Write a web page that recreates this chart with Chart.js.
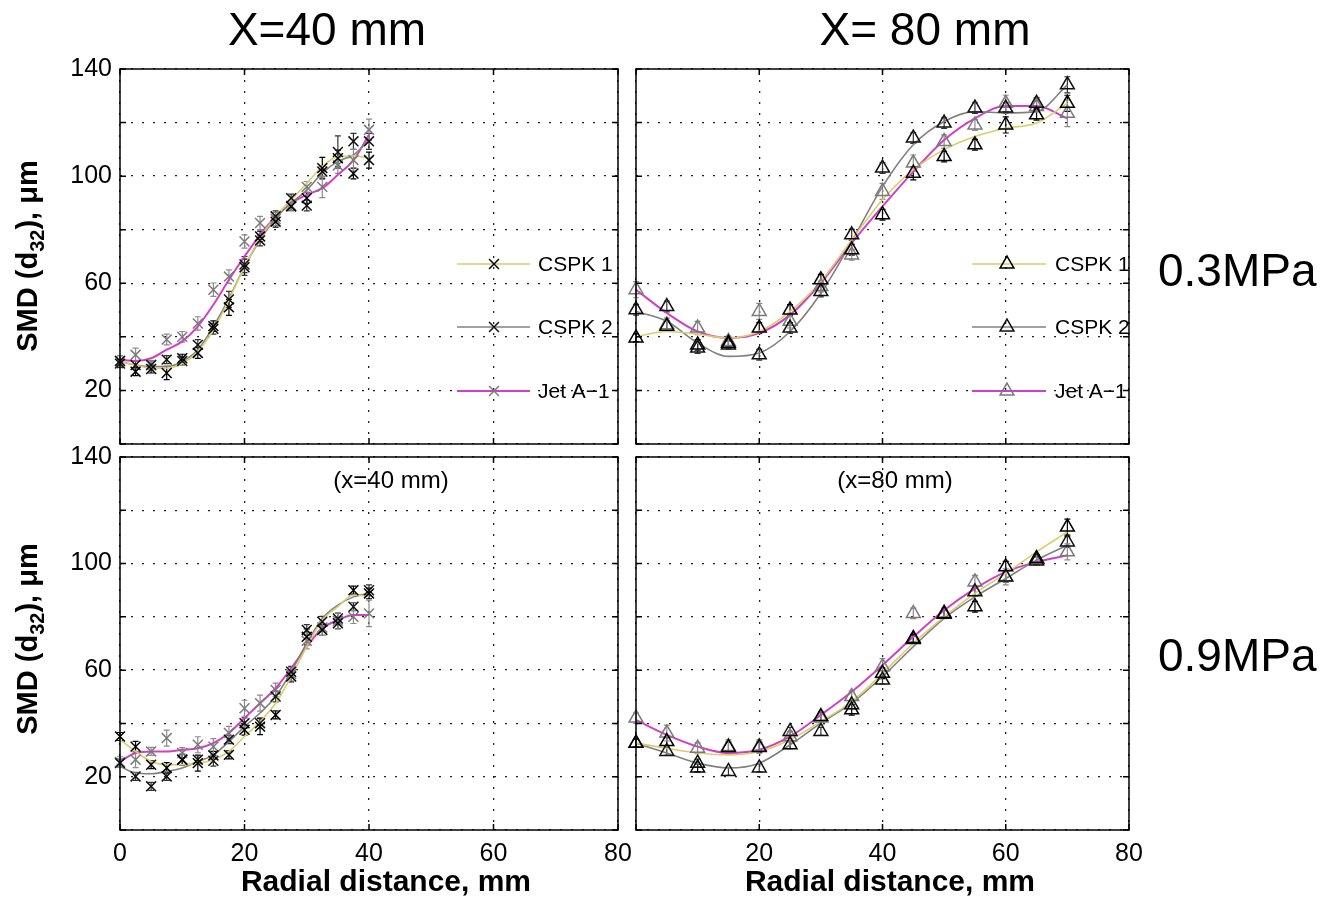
<!DOCTYPE html>
<html>
<head>
<meta charset="utf-8">
<script src="https://cdn.jsdelivr.net/npm/chart.js@4.4.1/dist/chart.umd.min.js"></script>
<style>
  body { margin: 0; background: #fff; }
  #page { position: relative; width: 1325px; height: 900px; font-family: "Liberation Sans", Arial, sans-serif; color: #000; }
  #page canvas { position: absolute; left: 0; top: 0; }
  .lbl { position: absolute; white-space: nowrap; transform: translate(-50%, -50%); }
  .big { font-size: 46px; }
  .side { font-size: 46px; transform: translate(0, -50%); }
  .axt { font-size: 30px; font-weight: bold; }
  .yt { font-size: 29px; font-weight: bold; transform: translate(-50%, -50%) rotate(-90deg); }
  .yt sub { font-size: 20px; vertical-align: -7px; }
</style>
</head>
<body>
<div id="page">
  <canvas id="lo40" width="1325" height="900"></canvas>
  <canvas id="lo80" width="1325" height="900"></canvas>
  <canvas id="hi40" width="1325" height="900"></canvas>
  <canvas id="hi80" width="1325" height="900"></canvas>

  <div class="lbl big" style="left:327px; top:29px;">X=40 mm</div>
  <div class="lbl big" style="left:925px; top:29px;">X= 80 mm</div>
  <div class="lbl side" style="left:1158px; top:270px;">0.3MPa</div>
  <div class="lbl side" style="left:1158px; top:655px;">0.9MPa</div>
  <div class="lbl yt" style="left:30px; top:256px;">SMD (d<sub>32</sub>), μm</div>
  <div class="lbl yt" style="left:30px; top:639px;">SMD (d<sub>32</sub>), μm</div>
  <div class="lbl axt" style="left:386px; top:881px;">Radial distance, mm</div>
  <div class="lbl axt" style="left:890px; top:881px;">Radial distance, mm</div>
</div>

<script>
  // radial positions of the measurements, mm
  const radial40 = [0, 2.5, 5, 7.5, 10, 12.5, 15, 17.5, 20, 22.5, 25, 27.5, 30, 32.5, 35, 37.5, 40];
  const radial80 = [0, 5, 10, 15, 20, 25, 30, 35, 40, 45, 50, 55, 60, 65, 70];

  const seriesNames = ["CSPK 1", "CSPK 2", "Jet A\u22121"];

  // 0.3 MPa, x = 40 mm
  const lo40Cspk1 = [31, 27, 28, 26.5, 32, 34, 44, 51, 66, 77.5, 83, 88.7, 91.8, 103, 106.7, 101, 106];
  const lo40Cspk2 = [30, 29.5, 29.5, 31.5, 31, 37, 43, 54, 67, 76, 85, 91.8, 89, 101.7, 109, 113, 113];
  const lo40Jet = [31, 33.3, 29.5, 39, 40, 45, 57.6, 62.5, 75.6, 82.5, 84, 89, 96, 96, 104, 106, 117.3];
  const lo40Cspk1Err = [2, 1.5, 1.5, 2.5, 1.5, 2, 2, 3, 3, 2, 2, 1.5, 2, 4, 3, 2, 3];
  const lo40Cspk2Err = [1.5, 1.5, 1.5, 1.5, 1.5, 2, 2, 3, 3, 2, 2, 1.5, 2, 2, 6, 3, 3];
  const lo40JetErr = [2, 2.5, 1.5, 2, 2, 2.5, 2.5, 2.5, 2.5, 2.5, 2.5, 2, 2, 4, 3, 4, 4];
  const lo40Cspk1Fit = [30.8, 29.5, 28.3, 28.3, 30, 34.5, 42.6, 53.8, 66.2, 76.8, 84.9, 91.1, 97.3, 103.6, 107.3, 107.5, 106.7];
  const lo40Cspk2Fit = [30.8, 29.5, 28.9, 28.9, 30.8, 35.2, 43.9, 54.4, 66.2, 76.2, 84.3, 89.9, 94.8, 101.1, 105.5, 107.9, 113.5];
  const lo40JetFit = [31.5, 31, 32, 35.2, 38.3, 43.9, 52, 61.3, 70, 78.1, 84.9, 89.9, 93, 95.5, 100.5, 106, 115.4];

  // 0.3 MPa, x = 80 mm
  const lo80Cspk1 = [39.6, 44, 37, 37.6, 43.3, 50, 61.3, 72.5, 85.6, 101.1, 107.3, 111.7, 119.1, 122.9, 127.2];
  const lo80Cspk2 = [50.1, 51.3, 35.8, 37, 33.3, 43.3, 56.9, 78.1, 103, 114.2, 119.8, 125.4, 125.4, 127.2, 134.1];
  const lo80Jet = [57.6, 44.5, 43.3, 38.3, 49.5, 45.8, 58.8, 70.6, 94.3, 104.9, 112.9, 119.1, 127.2, 126, 123.5];
  const lo80Cspk1Err = [1.5, 2, 2, 1.5, 2, 2, 2, 2, 2, 2.5, 2, 2, 3, 2, 3];
  const lo80Cspk2Err = [2, 2, 2, 1.5, 2, 2, 2, 2, 2, 2, 2, 2, 2, 2, 3];
  const lo80JetErr = [3, 2.5, 2.5, 2, 3, 2.5, 2, 2, 3, 3, 2.5, 2, 3, 2, 5];
  const lo80Cspk1Fit = [40.1, 42, 41, 39.6, 42, 49.5, 60.7, 76.2, 91.2, 102.4, 109.9, 114.8, 117.9, 119.8, 127.2];
  const lo80Cspk2Fit = [49.5, 45.8, 37.7, 32.7, 34, 42, 56.3, 75.6, 96.1, 111.7, 120.4, 124.1, 123.6, 124.1, 134.1];
  const lo80JetFit = [57.6, 48.9, 42, 39.6, 41.4, 48.2, 60.1, 75, 88.7, 101.7, 113.5, 121.6, 126.2, 126.2, 121.6];

  // 0.9 MPa, x = 40 mm
  const hi40Cspk1 = [35.1, 31.3, 24.5, 23.3, 26.4, 25.1, 28, 28.2, 37.6, 38.8, 43.2, 57.6, 72.5, 75.1, 77.6, 90, 88.8];
  const hi40Cspk2 = [25.1, 20.1, 16.4, 20.1, 26.4, 26.4, 26, 33.9, 40.1, 40.1, 50.1, 59.4, 75.1, 78.2, 79.4, 83.8, 90];
  const hi40Jet = [25.5, 26.4, 29.5, 34.5, 28.9, 32, 31.3, 36.4, 45.7, 47.6, 52.6, 58.5, 71, 76, 78.5, 80, 81.3];
  const hi40Cspk1Err = [1.5, 2, 1.5, 2, 2, 3, 1.5, 1.5, 2, 3, 1.5, 2, 3, 2, 2, 1.5, 2];
  const hi40Cspk2Err = [1.5, 1.5, 1.5, 1.5, 2, 1.5, 2, 1.5, 2, 2, 2, 2, 2, 2, 2, 1.5, 2];
  const hi40JetErr = [2, 3, 1.5, 3, 2, 3, 3, 2.5, 3, 3, 2.5, 2.5, 3, 3, 3, 2.5, 5];
  const hi40Cspk1Fit = [33.9, 29.5, 25.7, 24.5, 24.5, 25.1, 26.4, 29.5, 35.1, 40.7, 47.6, 57.6, 68.8, 78.8, 83.8, 88.2, 87.8];
  const hi40Cspk2Fit = [23.9, 21.4, 21.1, 22, 23.3, 25.7, 28.2, 33.2, 38.8, 43.9, 50.1, 59.4, 70.1, 79.4, 84.4, 87.5, 88.8];
  const hi40JetFit = [25.7, 28.9, 29.5, 29.5, 30.1, 30.7, 32.6, 36.4, 42, 47.6, 53.2, 60.7, 68.8, 75.7, 78.8, 80.7, 80.7];

  // 0.9 MPa, x = 80 mm
  const hi80Cspk1 = [32.6, 33.2, 23.3, 31, 31, 32, 42.6, 45.1, 58.8, 71.9, 81.3, 83.8, 98.8, 101.9, 113.7];
  const hi80Cspk2 = [32.6, 29.5, 25.1, 22, 23.3, 37, 37, 47, 56.3, 71.5, 81, 89.4, 95, 101, 108.1];
  const hi80Jet = [42, 36.4, 30.7, 31.3, 31.3, 35, 42, 50.1, 61.3, 81.3, 81.3, 93.1, 95, 101.5, 104.4];
  const hi80Cspk1Err = [1.5, 1.5, 1.5, 2, 2, 1.5, 1.5, 2, 2, 1.5, 1.5, 2, 2, 1.5, 3];
  const hi80Cspk2Err = [1.5, 1.5, 1.5, 1.5, 1.5, 1.5, 1.5, 1.5, 1.5, 1.5, 1.5, 1.5, 2, 1.5, 2];
  const hi80JetErr = [2, 3, 2, 2.5, 2.5, 2, 2.5, 2, 3, 2, 2, 2.5, 3, 2, 3];
  const hi80Cspk1Fit = [32.6, 30.7, 28.9, 28.2, 29.5, 33.9, 40.7, 48.2, 58.8, 70.1, 80, 88.8, 96.3, 104.4, 111.9];
  const hi80Cspk2Fit = [32.6, 28.9, 25.1, 23.3, 25.1, 32, 40.1, 47.6, 57.6, 68.8, 79.4, 87.5, 94.4, 101.3, 106.9];
  const hi80JetFit = [41.3, 35.7, 31.3, 28.9, 30.1, 35.1, 43.2, 51.9, 61.9, 72.5, 82.5, 90.6, 96.9, 100.6, 103.1];

  const FONT = '"Liberation Sans", Arial, sans-serif';
  const lineColors = ["#d8cf6a", "#808080", "#d23fc4"];
  const lineWidths = [1.6, 1.6, 2];
  const markerColors = ["#000", "#111", "#7a7a7a"];
  const errColors = ["#000", "#333", "#8c8c8c"];

  const pts = (xs, ys) => xs.map((x, i) => ({ x, y: ys[i] }));

  // box round the axes with inward tick marks
  const framePlugin = {
    id: "frame",
    afterDraw(chart) {
      const { ctx, chartArea: a, scales } = chart;
      ctx.save();
      ctx.strokeStyle = "#000";
      ctx.lineWidth = 1.5;
      ctx.strokeRect(a.left, a.top, a.right - a.left, a.bottom - a.top);
      ctx.beginPath();
      scales.x.ticks.forEach(t => {
        const px = scales.x.getPixelForValue(t.value);
        ctx.moveTo(px, a.bottom); ctx.lineTo(px, a.bottom - 6);
        ctx.moveTo(px, a.top); ctx.lineTo(px, a.top + 6);
      });
      scales.y.ticks.forEach(t => {
        const py = scales.y.getPixelForValue(t.value);
        ctx.moveTo(a.left, py); ctx.lineTo(a.left + 6, py);
        ctx.moveTo(a.right, py); ctx.lineTo(a.right - 6, py);
      });
      ctx.stroke();
      ctx.restore();
    }
  };

  // vertical error bars with caps for datasets that carry an `errors` array
  const errorBars = {
    id: "errorBars",
    beforeDatasetsDraw(chart) {
      const { ctx, scales: { x, y } } = chart;
      ctx.save();
      ctx.lineWidth = 1.2;
      chart.data.datasets.forEach(ds => {
        if (!ds.errors) return;
        ctx.strokeStyle = ds.errorColor;
        ctx.beginPath();
        ds.data.forEach((p, i) => {
          const px = x.getPixelForValue(p.x);
          const top = y.getPixelForValue(p.y + ds.errors[i]);
          const bot = y.getPixelForValue(p.y - ds.errors[i]);
          ctx.moveTo(px, top); ctx.lineTo(px, bot);
          ctx.moveTo(px - 3, top); ctx.lineTo(px + 3, top);
          ctx.moveTo(px - 3, bot); ctx.lineTo(px + 3, bot);
        });
        ctx.stroke();
      });
      ctx.restore();
    }
  };

  // legend drawn inside the plot, no box
  const innerLegend = {
    id: "innerLegend",
    afterDraw(chart, args, opts) {
      if (!opts.show) return;
      const { ctx, chartArea: a } = chart;
      ctx.save();
      seriesNames.forEach((name, i) => {
        const y = a.top + opts.rows[i];
        ctx.strokeStyle = lineColors[i];
        ctx.lineWidth = lineWidths[i];
        ctx.beginPath();
        ctx.moveTo(a.right + opts.line[0], y);
        ctx.lineTo(a.right + opts.line[1], y);
        ctx.stroke();
        ctx.strokeStyle = markerColors[i];
        ctx.fillStyle = "rgba(0,0,0,0)";
        ctx.lineWidth = 1.5;
        Chart.helpers.drawPoint(ctx, { pointStyle: opts.marker, radius: opts.radius, borderWidth: 1.5, rotation: 0 }, a.right + opts.markerAt, y);
        ctx.fillStyle = "#000";
        ctx.font = "21px " + FONT;
        ctx.textBaseline = "middle";
        ctx.textAlign = "left";
        ctx.fillText(name, a.right + opts.textAt, y + 1);
      });
      ctx.restore();
    }
  };

  const notePlugin = {
    id: "note",
    afterDraw(chart, args, opts) {
      if (!opts.text) return;
      const { ctx, chartArea: a } = chart;
      ctx.save();
      ctx.fillStyle = "#000";
      ctx.font = "24px " + FONT;
      ctx.textAlign = "center";
      ctx.textBaseline = "middle";
      ctx.fillText(opts.text, a.left + opts.dx, a.top + opts.dy);
      ctx.restore();
    }
  };

  function buildDatasets(cfg) {
    const sets = [];
    cfg.fits.forEach((fit, i) => sets.push({
      label: seriesNames[i] + " fit",
      data: pts(cfg.xs, fit),
      showLine: true,
      borderColor: lineColors[i],
      borderWidth: lineWidths[i],
      pointRadius: 0,
      cubicInterpolationMode: "monotone",
      order: 2
    }));
    cfg.measured.forEach((vals, i) => sets.push({
      label: seriesNames[i],
      data: pts(cfg.xs, vals),
      errors: cfg.errors[i],
      errorColor: errColors[i],
      showLine: false,
      pointStyle: cfg.marker,
      pointRadius: cfg.radius,
      pointBorderColor: markerColors[i],
      pointBackgroundColor: "rgba(0,0,0,0)",
      pointBorderWidth: 1.5,
      clip: false,
      order: 1
    }));
    return sets;
  }

  function makePanel(id, cfg) {
    const tickFont = { family: FONT, size: 25 };
    return new Chart(document.getElementById(id), {
      type: "scatter",
      data: { datasets: buildDatasets(cfg) },
      options: {
        responsive: false,
        animation: false,
        events: [],
        layout: {
          autoPadding: false,
          padding: cfg.pad
        },
        plugins: {
          legend: { display: false },
          tooltip: { enabled: false },
          innerLegend: cfg.legend || { show: false },
          note: cfg.note || {}
        },
        scales: {
          x: {
            type: "linear",
            min: 0,
            max: 80,
            ticks: {
              stepSize: 20,
              display: cfg.showX,
              autoSkip: false,
              maxRotation: 0,
              padding: 9,
              color: "#000",
              font: tickFont,
              callback: v => (cfg.hideZero && v === 0 ? "" : v)
            },
            grid: { color: "#222", lineWidth: 1.3, drawTicks: false },
            border: { display: false, dash: [2, 9] },
            afterFit: s => { s.height = cfg.showX ? 42 : 0; }
          },
          y: {
            min: 0,
            max: 140,
            ticks: {
              stepSize: 20,
              display: cfg.showY,
              autoSkip: false,
              padding: 8,
              color: "#000",
              font: tickFont,
              callback: v => (v % 40 === 20 ? v : "")
            },
            grid: { color: "#222", lineWidth: 1.3, drawTicks: false },
            border: { display: false, dash: [2, 9] },
            afterFit: s => { s.width = cfg.showY ? 120 : 0; }
          }
        }
      },
      plugins: [errorBars, framePlugin, innerLegend, notePlugin]
    });
  }

  const legendRows = [195, 258, 322];

  makePanel("lo40", {
    xs: radial40,
    measured: [lo40Cspk1, lo40Cspk2, lo40Jet],
    errors: [lo40Cspk1Err, lo40Cspk2Err, lo40JetErr],
    fits: [lo40Cspk1Fit, lo40Cspk2Fit, lo40JetFit],
    marker: "crossRot", radius: 7,
    pad: { left: 0, top: 69, right: 1325 - 618, bottom: 900 - 444 },
    showX: false, showY: true,
    legend: { show: true, marker: "crossRot", radius: 7, rows: legendRows, line: [-161, -88], markerAt: -124, textAt: -80 }
  });

  makePanel("lo80", {
    xs: radial80,
    measured: [lo80Cspk1, lo80Cspk2, lo80Jet],
    errors: [lo80Cspk1Err, lo80Cspk2Err, lo80JetErr],
    fits: [lo80Cspk1Fit, lo80Cspk2Fit, lo80JetFit],
    marker: "triangle", radius: 8,
    pad: { left: 636, top: 69, right: 1325 - 1129, bottom: 900 - 444 },
    showX: false, showY: false,
    legend: { show: true, marker: "triangle", radius: 8, rows: legendRows, line: [-157, -83], markerAt: -122, textAt: -74 }
  });

  makePanel("hi40", {
    xs: radial40,
    measured: [hi40Cspk1, hi40Cspk2, hi40Jet],
    errors: [hi40Cspk1Err, hi40Cspk2Err, hi40JetErr],
    fits: [hi40Cspk1Fit, hi40Cspk2Fit, hi40JetFit],
    marker: "crossRot", radius: 7,
    pad: { left: 0, top: 457, right: 1325 - 618, bottom: 900 - 830 - 42 },
    showX: true, showY: true,
    note: { text: "(x=40 mm)", dx: 271, dy: 24 }
  });

  makePanel("hi80", {
    xs: radial80,
    measured: [hi80Cspk1, hi80Cspk2, hi80Jet],
    errors: [hi80Cspk1Err, hi80Cspk2Err, hi80JetErr],
    fits: [hi80Cspk1Fit, hi80Cspk2Fit, hi80JetFit],
    marker: "triangle", radius: 8,
    pad: { left: 636, top: 457, right: 1325 - 1129, bottom: 900 - 830 - 42 },
    showX: true, showY: false, hideZero: true,
    note: { text: "(x=80 mm)", dx: 259, dy: 24 }
  });
</script>
</body>
</html>
